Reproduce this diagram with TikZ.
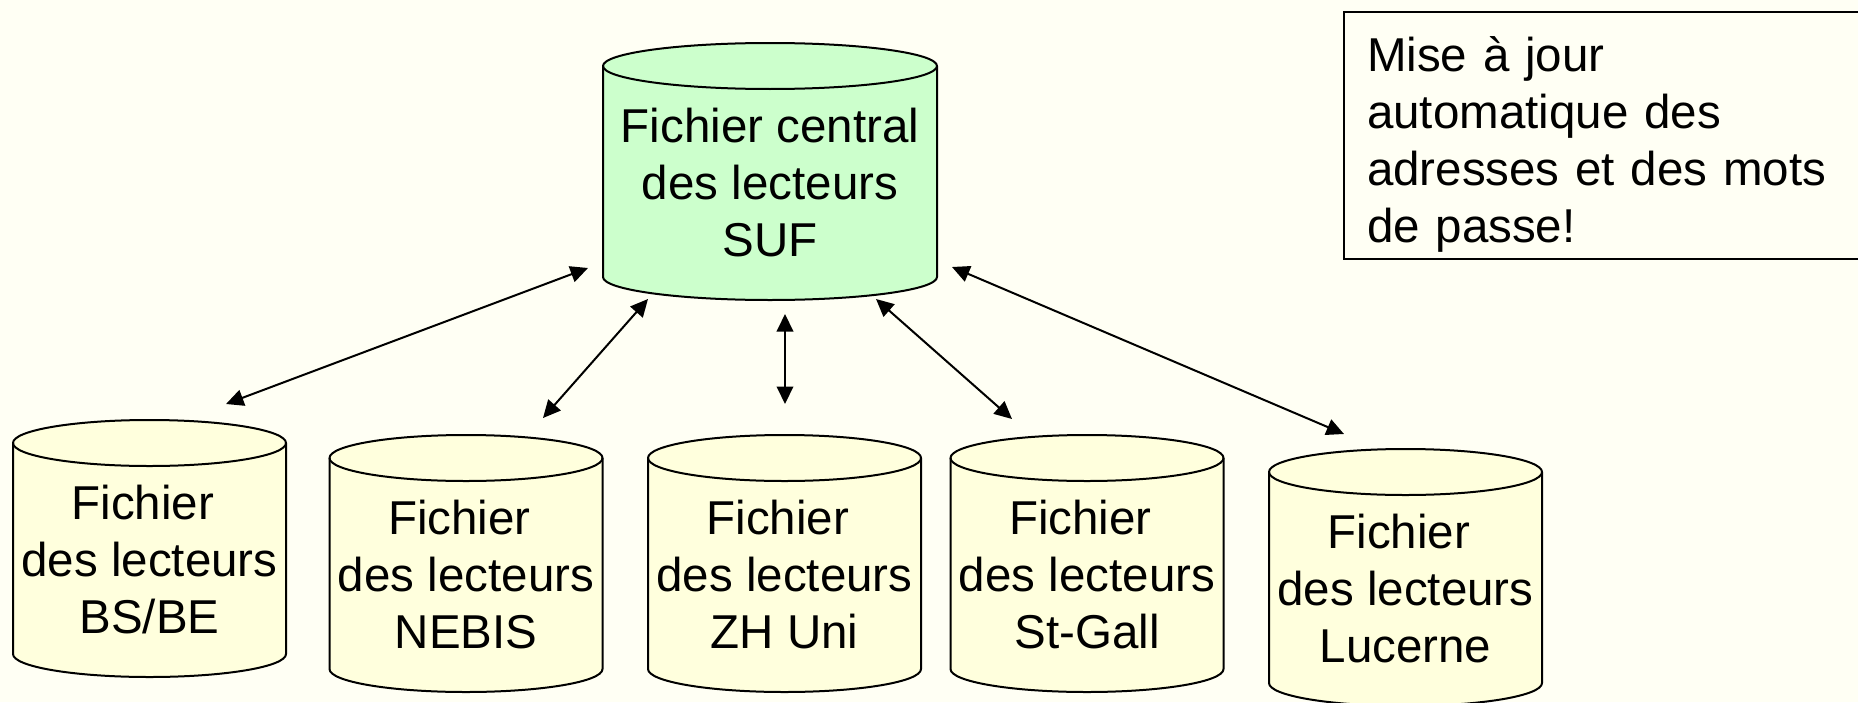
\documentclass[tikz,border=0pt]{standalone}
\usepackage{fontspec}
\setmainfont{Liberation Sans}
\usetikzlibrary{arrows.meta}
\definecolor{bg}{HTML}{FFFFF4}
\definecolor{centralfill}{HTML}{CCFFCC}
\definecolor{localfill}{HTML}{FFFFDD}
\tikzset{
  cylline/.style={draw=black, line width=0.8pt},
  cyltext/.style={font=\fontsize{19}{22.8}\selectfont, align=center, inner sep=0pt},
  link/.style={line width=0.8pt, {Triangle[length=7pt,width=6.6pt]}-{Triangle[length=7pt,width=6.6pt]}},
  notebox/.style={draw=black, line width=0.8pt, anchor=north west,
    font=\fontsize{19}{22.8}\selectfont, align=left, text width=192pt,
    inner xsep=9.2pt, inner ysep=0pt, minimum height=98.8pt}
}
\newcommand\dbcyl[6]{%
  \path[cylline, fill=#5] (#2-#4,#3) -- (#2-#4,#3-211)
     arc[start angle=180, end angle=360, x radius=#4, y radius=23]
     -- (#2+#4,#3)
     arc[start angle=0, end angle=180, x radius=#4, y radius=23] -- cycle;
  \draw[cylline] (#2-#4,#3) arc[start angle=180, end angle=360, x radius=#4, y radius=23];
  \node[cyltext] (#1) at (#2,#3-117) {#6};
}
\begin{document}
\begin{tikzpicture}[x=0.4pt,y=0.4pt]
\useasboundingbox (0,0) rectangle (1858,702);
\fill[bg] (0,0) rectangle (1858,702);

\dbcyl{suf}{770}{636}{167}{centralfill}{Fichier central\\des lecteurs\\SUF}
\dbcyl{bsbe}{149.5}{259}{136.5}{localfill}{Fichier\kern0.278em\\des lecteurs\\BS/BE}
\dbcyl{nebis}{466}{244}{136.5}{localfill}{Fichier\kern0.278em\\des lecteurs\\NEBIS}
\dbcyl{zh}{784.5}{244}{136.5}{localfill}{Fichier\kern0.278em\\des lecteurs\\ZH Uni}
\dbcyl{sg}{1087}{244}{136.5}{localfill}{Fichier\kern0.278em\\des lecteurs\\St-Gall}
\dbcyl{lu}{1405.5}{230}{136.5}{localfill}{Fichier\kern0.278em\\des lecteurs\\Lucerne}

\coordinate (a1) at (226,298);  \coordinate (b1) at (588,434);
\coordinate (a2) at (543,284);  \coordinate (b2) at (648,403);
\coordinate (a3) at (785,298);  \coordinate (b3) at (785,388);
\coordinate (a4) at (1012,283); \coordinate (b4) at (876,403);
\coordinate (a5) at (1344,268); \coordinate (b5) at (952,435);

\draw[link] (a1) -- (b1);
\draw[link] (a2) -- (b2);
\draw[link] (a3) -- (b3);
\draw[link] (a4) -- (b4);
\draw[link] (a5) -- (b5);

\node[notebox] (note) at (1343,691)
  {\rule{0pt}{20.8pt}Mise à jour\\automatique des\\adresses et des mots\\de passe!};
\end{tikzpicture}
\end{document}
